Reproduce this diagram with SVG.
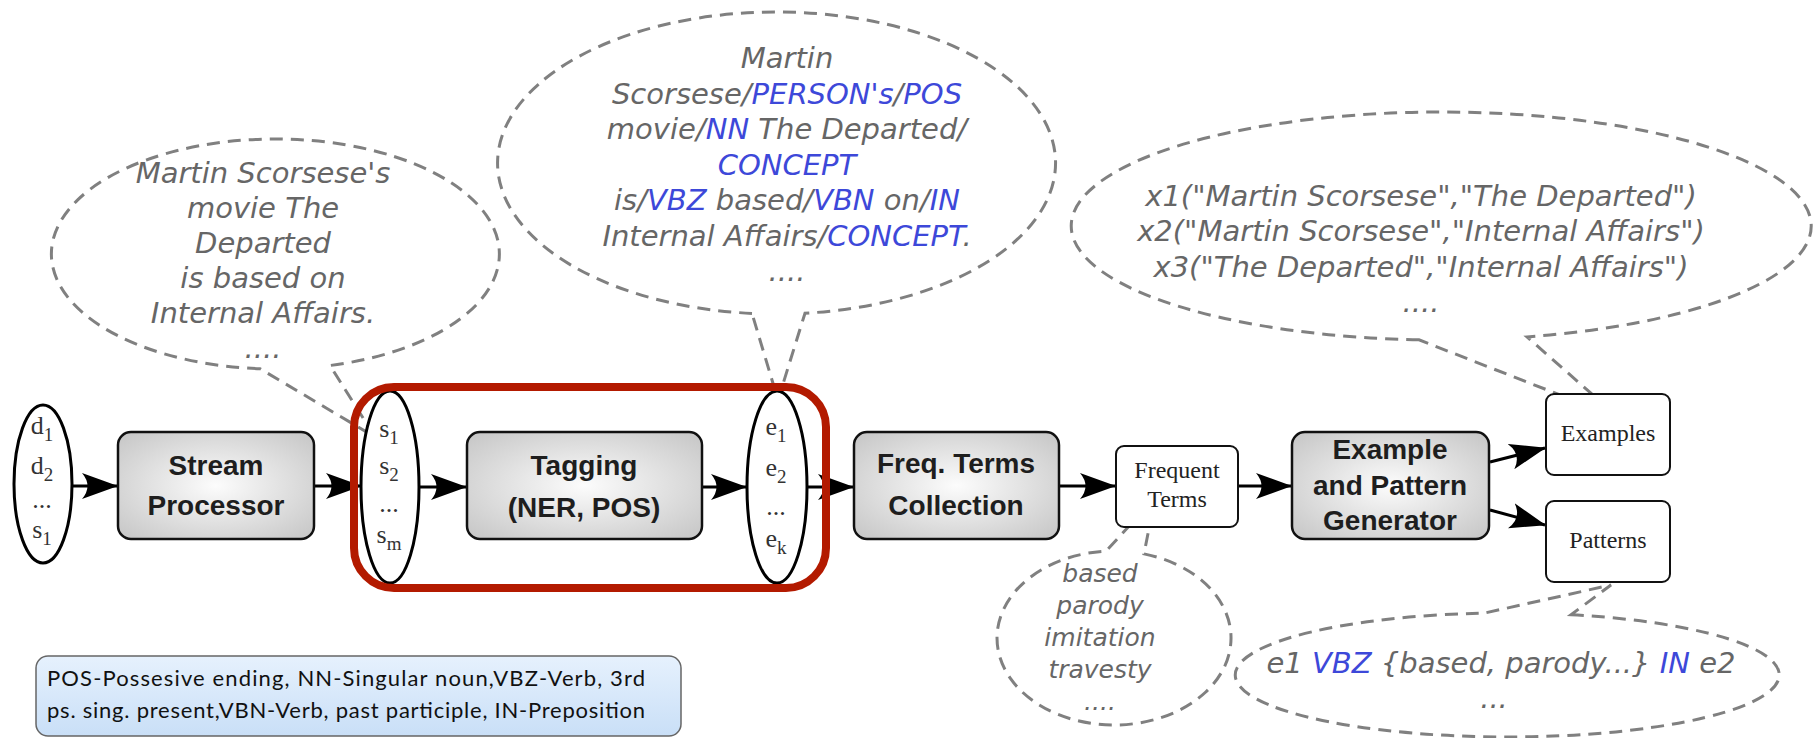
<svg xmlns="http://www.w3.org/2000/svg" width="1815" height="738" viewBox="0 0 1815 738">
<defs>
<radialGradient id="gg" cx="50%" cy="50%" r="65%">
<stop offset="0" stop-color="#fcfcfc"/><stop offset="1" stop-color="#c9c9c9"/>
</radialGradient>
<linearGradient id="lg" x1="0" y1="0" x2="0" y2="1">
<stop offset="0" stop-color="#e6f1fd"/><stop offset="1" stop-color="#c9dff7"/>
</linearGradient>
<marker id="ah" viewBox="0 0 36 26" markerWidth="36" markerHeight="26" refX="35" refY="13" orient="auto" markerUnits="userSpaceOnUse">
<path d="M36,13 L0,0 Q11,13 0,26 Z" fill="#000"/>
</marker>
</defs>
<style>
.bub{fill:none;stroke:#808080;stroke-width:3;stroke-dasharray:13 8}
.bt{font-family:"DejaVu Sans",Verdana,sans-serif;font-style:italic;font-size:29px;fill:#666;text-anchor:middle}
.bt2{font-family:"DejaVu Sans",Verdana,sans-serif;font-style:italic;font-size:25px;fill:#666;text-anchor:middle}
.b{fill:#3d48d9}
.proc{fill:url(#gg);stroke:#111;stroke-width:2.5}
.pt{font-family:"Liberation Sans",Arial,sans-serif;font-weight:bold;font-size:28px;fill:#1e1e1e;text-anchor:middle}
.out{fill:#fff;stroke:#111;stroke-width:2}
.st{font-family:"Liberation Serif","Times New Roman",serif;font-size:24px;fill:#222;text-anchor:middle}
.ell{fill:#fff;stroke:#000;stroke-width:3}
.et{font-family:"Liberation Serif","Times New Roman",serif;font-size:26px;fill:#333;text-anchor:middle}
.sub{font-size:19px}
.conn{stroke:#000;stroke-width:3;fill:none;marker-end:url(#ah)}
.lt{font-family:Lato,"Liberation Sans",sans-serif;font-size:22px;fill:#111}
</style>

<g id="bubble-sentence">
<path class="bub" d="M260,368.7 A224,115 0 1 1 330,365.5 L375,437 Z"/>
<text class="bt" x="263" y="183">Martin Scorsese's</text>
<text class="bt" x="263" y="218">movie The</text>
<text class="bt" x="263" y="253">Departed</text>
<text class="bt" x="263" y="288">is based on</text>
<text class="bt" x="263" y="323">Internal Affairs.</text>
<text class="bt" x="263" y="358">....</text>
</g>

<g id="bubble-tagged">
<path class="bub" d="M752,313.4 A279,151 0 1 1 805,313.2 L778,400 Z"/>
<text class="bt" x="787" y="68">Martin</text>
<text class="bt" x="787" y="103.5">Scorsese/<tspan class="b">PERSON's</tspan>/<tspan class="b">POS</tspan></text>
<text class="bt" x="787" y="139">movie/<tspan class="b">NN</tspan> The Departed/</text>
<text class="bt" x="787" y="174.5"><tspan class="b">CONCEPT</tspan></text>
<text class="bt" x="787" y="210">is/<tspan class="b">VBZ</tspan> based/<tspan class="b">VBN</tspan> on/<tspan class="b">IN</tspan></text>
<text class="bt" x="787" y="245.5">Internal Affairs/<tspan class="b">CONCEPT</tspan>.</text>
<text class="bt" x="787" y="281">....</text>
</g>

<g id="bubble-examples">
<path class="bub" d="M1419,339.8 A370,114 0 1 1 1527,336.9 L1619,418 Z"/>
<text class="bt" x="1421" y="206">x1("Martin Scorsese","The Departed")</text>
<text class="bt" x="1421" y="241">x2("Martin Scorsese","Internal Affairs")</text>
<text class="bt" x="1421" y="277">x3("The Departed","Internal Affairs")</text>
<text class="bt" x="1421" y="312">....</text>
</g>

<g id="bubble-terms">
<path class="bub" d="M1144,553.9 A117,87 0 1 1 1106,551.2 L1155,498 Z"/>
<text class="bt2" x="1100" y="582">based</text>
<text class="bt2" x="1100" y="614">parody</text>
<text class="bt2" x="1100" y="646">imitation</text>
<text class="bt2" x="1100" y="678">travesty</text>
<text class="bt2" x="1100" y="710">....</text>
</g>

<g id="bubble-patterns">
<path class="bub" d="M1571,614.7 A272,62 0 1 1 1484,613.2 L1611,585 Z"/>
<text class="bt" x="1501" y="673">e1 <tspan class="b">VBZ</tspan> {based, parody...} <tspan class="b">IN</tspan> e2</text>
<text class="bt" x="1494" y="708">...</text>
</g>

<g id="connectors">
<line class="conn" x1="72" y1="486" x2="117" y2="486"/>
<line class="conn" x1="314" y1="486" x2="361" y2="486"/>
<line class="conn" x1="419" y1="487" x2="466" y2="487"/>
<line class="conn" x1="702" y1="487" x2="746" y2="487"/>
<line class="conn" x1="807" y1="487" x2="853" y2="487"/>
<line class="conn" x1="1059" y1="486" x2="1115" y2="486"/>
<line class="conn" x1="1238" y1="486" x2="1291" y2="486"/>
<line class="conn" x1="1490" y1="462" x2="1545" y2="448"/>
<line class="conn" x1="1490" y1="510" x2="1545" y2="525"/>
</g>

<g id="docs">
<ellipse class="ell" cx="43" cy="484" rx="29" ry="79"/>
<text class="et" x="42" y="434">d<tspan class="sub" dy="7">1</tspan></text>
<text class="et" x="42" y="474">d<tspan class="sub" dy="7">2</tspan></text>
<text class="et" x="42" y="508">...</text>
<text class="et" x="42" y="538">s<tspan class="sub" dy="7">1</tspan></text>
</g>

<g id="stream-processor">
<rect class="proc" x="118" y="432" width="196" height="107" rx="13"/>
<text class="pt" x="216" y="475">Stream</text>
<text class="pt" x="216" y="515">Processor</text>
</g>

<g id="sentences">
<ellipse class="ell" cx="390" cy="487" rx="29" ry="96"/>
<text class="et" x="389" y="437">s<tspan class="sub" dy="7">1</tspan></text>
<text class="et" x="389" y="474">s<tspan class="sub" dy="7">2</tspan></text>
<text class="et" x="389" y="512">...</text>
<text class="et" x="389" y="543">s<tspan class="sub" dy="7">m</tspan></text>
</g>

<g id="tagging">
<rect class="proc" x="467" y="432" width="235" height="107" rx="13"/>
<text class="pt" x="584" y="475">Tagging</text>
<text class="pt" x="584" y="517">(NER, POS)</text>
</g>

<g id="entities">
<ellipse class="ell" cx="777" cy="487" rx="30" ry="96"/>
<text class="et" x="776" y="435">e<tspan class="sub" dy="7">1</tspan></text>
<text class="et" x="776" y="476">e<tspan class="sub" dy="7">2</tspan></text>
<text class="et" x="776" y="515">...</text>
<text class="et" x="776" y="547">e<tspan class="sub" dy="7">k</tspan></text>
</g>

<g id="highlight">
<rect x="354" y="387" width="472" height="201" rx="40" fill="none" stroke="#b31a00" stroke-width="8"/>
</g>

<g id="freq-terms-collection">
<rect class="proc" x="854" y="432" width="205" height="107" rx="13"/>
<text class="pt" x="956" y="473">Freq. Terms</text>
<text class="pt" x="956" y="515">Collection</text>
</g>

<g id="frequent-terms">
<rect class="out" x="1116" y="446" width="122" height="81" rx="8"/>
<text class="st" x="1177" y="478">Frequent</text>
<text class="st" x="1177" y="507">Terms</text>
</g>

<g id="generator">
<rect class="proc" x="1292" y="432" width="197" height="107" rx="13"/>
<text class="pt" x="1390" y="459">Example</text>
<text class="pt" x="1390" y="495">and Pattern</text>
<text class="pt" x="1390" y="530">Generator</text>
</g>

<g id="examples">
<rect class="out" x="1546" y="394" width="124" height="81" rx="8"/>
<text class="st" x="1608" y="441">Examples</text>
</g>

<g id="patterns">
<rect class="out" x="1546" y="501" width="124" height="81" rx="8"/>
<text class="st" x="1608" y="548">Patterns</text>
</g>

<g id="legend">
<rect x="36" y="656" width="645" height="80" rx="12" fill="url(#lg)" stroke="#666" stroke-width="1.5"/>
<text class="lt" x="47" y="686" textLength="598" lengthAdjust="spacing">POS-Possesive ending, NN-Singular noun,VBZ-Verb, 3rd</text>
<text class="lt" x="47" y="718" textLength="598" lengthAdjust="spacing">ps. sing. present,VBN-Verb, past participle, IN-Preposition</text>
</g>
</svg>
